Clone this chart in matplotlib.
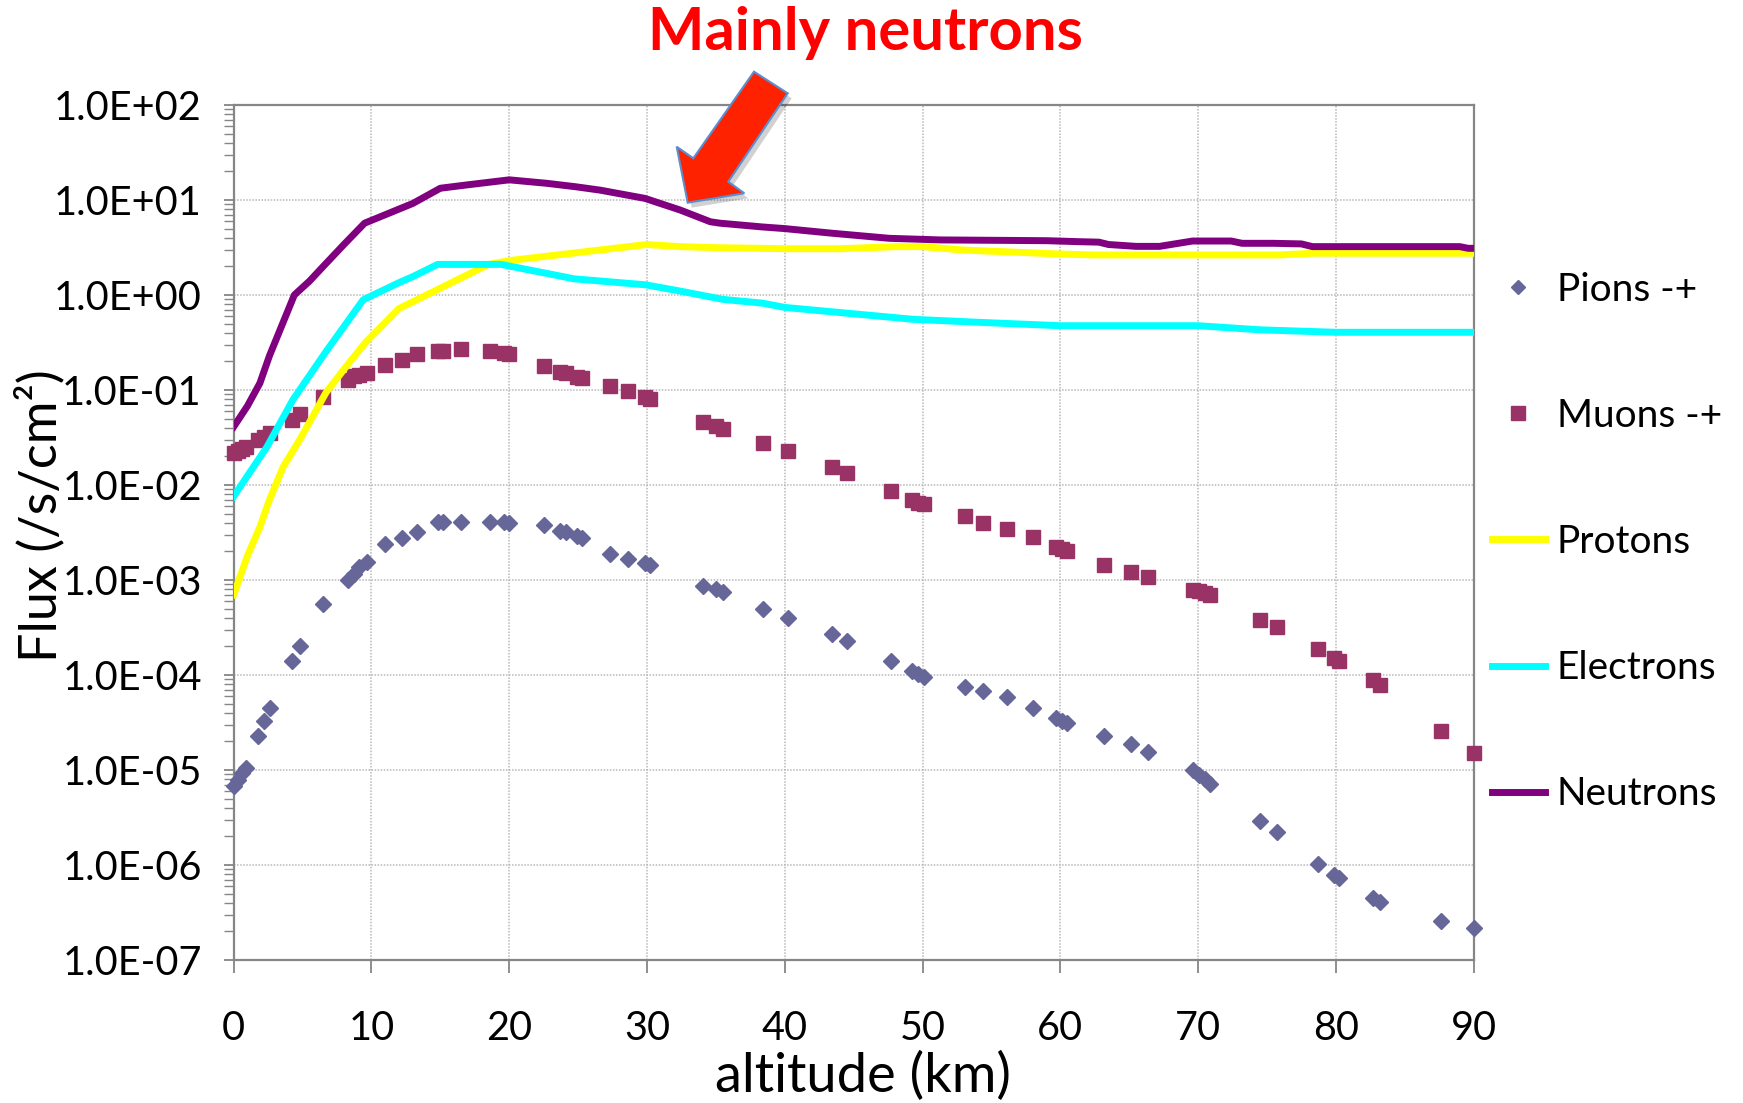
import matplotlib
matplotlib.use("Agg")
import matplotlib.pyplot as plt
from matplotlib.lines import Line2D
from matplotlib.patches import Polygon
from matplotlib.ticker import LogLocator, FixedLocator, NullFormatter, FuncFormatter

plt.rcParams['font.family'] = ['Lato', 'DejaVu Sans']

# ---------------- data ----------------
alt_pm = [0, 0.3, 0.6, 0.9, 1.8, 2.2, 2.6, 4.2, 4.8, 6.5, 8.3, 8.7, 9.1, 9.65,
          11.0, 12.2, 13.3, 14.8, 15.2, 16.5, 18.6, 19.6, 20.0, 22.5, 23.7, 24.1,
          24.9, 25.3, 27.3, 28.6, 29.85, 30.2, 34.1, 35.0, 35.5, 38.4, 40.2, 43.4,
          44.5, 47.7, 49.2, 49.7, 50.1, 53.1, 54.4, 56.1, 58.0, 59.7, 60.1, 60.5,
          63.2, 65.1, 66.4, 69.6, 70.1, 70.5, 70.9, 74.5, 75.7, 78.7, 79.9, 80.2,
          82.7, 83.2, 87.6, 90.0]
pions = [6.8e-6, 7.8e-6, 9.2e-6, 1.05e-5, 2.3e-5, 3.3e-5, 4.5e-5, 1.4e-4, 2.0e-4,
         5.6e-4, 1.0e-3, 1.17e-3, 1.36e-3, 1.56e-3, 2.4e-3, 2.8e-3, 3.2e-3, 4.1e-3,
         4.1e-3, 4.1e-3, 4.1e-3, 4.1e-3, 3.95e-3, 3.8e-3, 3.3e-3, 3.2e-3, 2.9e-3,
         2.75e-3, 1.9e-3, 1.65e-3, 1.5e-3, 1.43e-3, 8.7e-4, 8.0e-4, 7.4e-4, 5.0e-4,
         3.97e-4, 2.7e-4, 2.3e-4, 1.4e-4, 1.1e-4, 1.02e-4, 9.6e-5, 7.5e-5, 6.8e-5,
         5.8e-5, 4.5e-5, 3.5e-5, 3.3e-5, 3.1e-5, 2.3e-5, 1.87e-5, 1.54e-5, 1.0e-5,
         8.9e-6, 8.0e-6, 7.1e-6, 2.93e-6, 2.2e-6, 1.02e-6, 7.9e-7, 7.3e-7, 4.5e-7,
         4.1e-7, 2.6e-7, 2.15e-7]
muons = [0.0216, 0.023, 0.024, 0.025, 0.030, 0.032, 0.035, 0.048, 0.056, 0.084,
         0.127, 0.14, 0.145, 0.152, 0.183, 0.207, 0.237, 0.257, 0.26, 0.27, 0.26,
         0.247, 0.24, 0.18, 0.156, 0.15, 0.138, 0.134, 0.11, 0.098, 0.085, 0.08,
         0.046, 0.042, 0.039, 0.028, 0.023, 0.0156, 0.0135, 0.0086, 0.0070, 0.0065,
         0.0063, 0.0047, 0.0040, 0.00344, 0.00284, 0.00221, 0.0021, 0.00204,
         0.00144, 0.0012, 0.00107, 7.9e-4, 7.6e-4, 7.3e-4, 6.95e-4, 3.8e-4, 3.2e-4,
         1.86e-4, 1.5e-4, 1.4e-4, 8.9e-5, 7.9e-5, 2.6e-5, 1.5e-5]

alt_p = [0, 1, 1.9, 2.6, 3.6, 4.8, 6.7, 8.4, 9.6, 12.0, 14.9, 18.5, 20, 25, 30,
         32.4, 35, 40, 44, 48.2, 50, 53, 60, 62.4, 75.9, 78.3, 90]
protons = [7e-4, 1.8e-3, 3.6e-3, 7e-3, 1.56e-2, 3.0e-2, 9.4e-2, 0.195, 0.32, 0.72,
           1.16, 2.1, 2.3, 2.8, 3.4, 3.23, 3.15, 3.07, 3.07, 3.23, 3.23, 2.97, 2.7,
           2.64, 2.64, 2.75, 2.75]

alt_e = [0, 2.4, 4.3, 6.75, 9.4, 12, 13, 14.8, 19.4, 22.7, 24.7, 29.9, 32.4, 35.5,
         38.4, 40, 49.3, 54.2, 60, 70, 74.5, 80, 90]
electrons = [7.6e-3, 0.025, 0.079, 0.26, 0.89, 1.35, 1.56, 2.1, 2.1, 1.69, 1.48,
             1.28, 1.1, 0.9, 0.82, 0.74, 0.555, 0.515, 0.475, 0.475, 0.43, 0.405,
             0.405]

alt_n = [0, 1.0, 1.9, 2.6, 3.5, 4.4, 5.5, 6.5, 8.0, 9.5, 11, 13.0, 15.0, 16.9, 20,
         22.7, 24.8, 26.6, 29.85, 32.4, 34.6, 35.3, 38.4, 40, 43.5, 47.6, 51.3, 59,
         61.4, 62.8, 63.5, 65.5, 67.2, 69.6, 72.4, 73.2, 75.5, 77.5, 78.3, 89, 89.6, 90]
neutrons = [0.041, 0.068, 0.118, 0.23, 0.48, 1.0, 1.4, 2.0, 3.4, 5.7, 7.0, 9.2, 13.3,
            14.4, 16.3, 15.0, 13.8, 12.7, 10.4, 7.85, 5.9, 5.7, 5.2, 5.0, 4.46, 3.95,
            3.8, 3.73, 3.64, 3.6, 3.4, 3.25, 3.25, 3.7, 3.7, 3.5, 3.5, 3.45, 3.23,
            3.23, 3.1, 3.1]

x_ticks = [0, 10, 20, 30, 40, 50, 60, 70, 80, 90]
labels = ['Pions -+', 'Muons -+', 'Protons', 'Electrons', 'Neutrons']
colors = ['#666699', '#993366', '#FFFF00', '#00FFFF', '#800080']

# ---------------- figure ----------------
W, H = 1743, 1103
fig = plt.figure(figsize=(W / 100, H / 100), dpi=100)
L, R, B, T = 233.7, 1473.6, 960.0, 105.0
ax = fig.add_axes([L / W, 1 - B / H, (R - L) / W, (B - T) / H])

ax.set_yscale('log')
ax.set_xlim(0, 90)
ax.set_ylim(1e-7, 1e2)

LW = 5.0
ax.plot(alt_pm, pions, linestyle='none', marker='D', ms=7.8, color=colors[0],
        mec=colors[0], label=labels[0], clip_on=False, zorder=3)
ax.plot(alt_pm, muons, linestyle='none', marker='s', ms=10.3, color=colors[1],
        mec=colors[1], label=labels[1], clip_on=False, zorder=3)
ax.plot(alt_p, protons, color=colors[2], lw=LW, label=labels[2], zorder=4,
        solid_joinstyle='round')
ax.plot(alt_e, electrons, color=colors[3], lw=LW, label=labels[3], zorder=4,
        solid_joinstyle='round')
ax.plot(alt_n, neutrons, color=colors[4], lw=LW, label=labels[4], zorder=5,
        solid_joinstyle='round')

grey = '#868686'
for s in ax.spines.values():
    s.set_color(grey)
    s.set_linewidth(1.6)

ax.xaxis.set_major_locator(FixedLocator(x_ticks))
ax.yaxis.set_major_locator(LogLocator(base=10, numticks=20))
ax.yaxis.set_minor_locator(LogLocator(base=10, subs=range(2, 10), numticks=20))
ax.yaxis.set_minor_formatter(NullFormatter())


def efmt(v, pos):
    s = '%.1E' % v
    mant, ex = s.split('E')
    sign = ex[0]
    digits = ex[1:].rjust(2, '0')
    return '%sE%s%s' % (mant, sign, digits)


ax.yaxis.set_major_formatter(FuncFormatter(efmt))

ax.tick_params(axis='x', which='major', direction='out', length=9, width=1.3,
               color=grey, labelsize=28.5, pad=27)
ax.tick_params(axis='y', which='both', direction='out', length=7, width=1.0,
               color=grey, labelsize=28.5, pad=16)
ax.tick_params(axis='y', which='major', width=1.3)

ax.grid(True, which='major', color='#B8B8B8', linestyle=(0, (1, 1)), lw=1.1)
ax.set_axisbelow(True)

ax.set_xlabel('altitude (km)', fontsize=39)
ax.xaxis.set_label_coords((863 - L) / (R - L), (B - 1076) / (B - T))
ax.xaxis.label.set_va('center')
ax.set_ylabel('Flux (/s/cm²)', fontsize=37.5)
ax.yaxis.set_label_coords((40 - L) / (R - L), (B - 516) / (B - T))
ax.yaxis.label.set_va('center')

# legend
handles = [
    Line2D([], [], linestyle='none', marker='D', ms=7.5, color=colors[0]),
    Line2D([], [], linestyle='none', marker='s', ms=9.5, color=colors[1]),
    Line2D([], [], color=colors[2], lw=LW),
    Line2D([], [], color=colors[3], lw=LW),
    Line2D([], [], color=colors[4], lw=LW),
]
fig.legend(handles, labels, loc='center left',
           bbox_to_anchor=(1492 / W, 1 - 542 / H), frameon=False,
           fontsize=28, handlelength=1.36, handletextpad=0.3,
           labelspacing=2.32, borderpad=0, borderaxespad=0, numpoints=1)

# title
fig.text(865 / W, 1 - 33 / H, 'Mainly neutrons', color='#FF0000', fontsize=43,
         fontweight='bold', ha='center', va='center')

# arrow (figure pixel coords)
arrow_px = [(687.7, 202.7), (676.7, 146.7), (693.3, 158.3), (754.0, 71.7),
            (787.7, 93.3), (728.3, 181.7), (744.3, 193.3)]


def to_fig(pts, dx=0, dy=0):
    return [((x + dx) / W, 1 - (y + dy) / H) for x, y in pts]


fig.patches.append(Polygon(to_fig(arrow_px, 4, 5), closed=True,
                           transform=fig.transFigure, facecolor='#000000',
                           alpha=0.18, edgecolor='none', zorder=9))
fig.patches.append(Polygon(to_fig(arrow_px), closed=True, transform=fig.transFigure,
                           facecolor='#FF2200', edgecolor='#5B8FD0', lw=1.5,
                           zorder=10))

fig.savefig('out.png', dpi=100)
